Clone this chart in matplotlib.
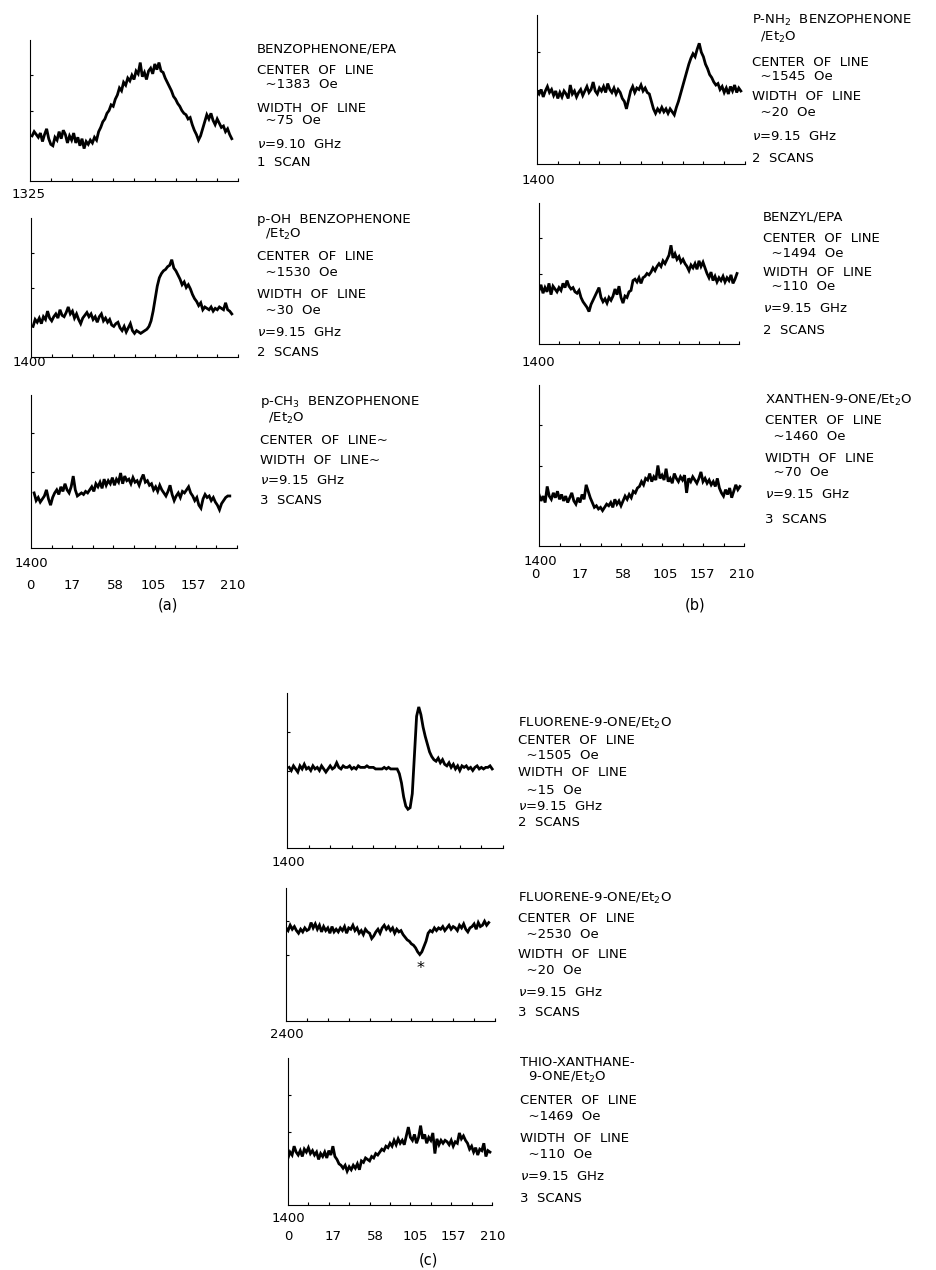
import matplotlib
matplotlib.use('Agg')
import matplotlib.pyplot as plt
import numpy as np

W, H = 936, 1270

# traces: y in percent of panel height, sampled every 1% of panel width
a1_start = 1
a1_y = [32, 35, 33, 31, 34, 28, 33, 37, 30, 26, 25, 31, 29, 35, 30, 36, 33, 27, 32, 29,
        34, 27, 31, 25, 30, 23, 28, 26, 29, 27, 31, 29, 35, 38, 42, 44, 48, 50, 54, 53,
        58, 61, 66, 64, 70, 68, 73, 71, 75, 72, 78, 76, 84, 74, 77, 72, 78, 80, 76, 83,
        79, 84, 78, 77, 73, 70, 67, 64, 60, 58, 55, 53, 50, 48, 47, 44, 45, 40, 36, 33,
        29, 32, 37, 42, 47, 44, 48, 43, 40, 44, 41, 38, 39, 35, 37, 33, 30]

a2_start = 1
a2_y = [22, 27, 25, 28, 24, 29, 27, 33, 28, 26, 29, 31, 28, 34, 30, 29, 32, 36, 31, 33,
        28, 31, 27, 24, 28, 30, 32, 29, 31, 27, 29, 25, 29, 31, 26, 28, 25, 27, 23, 22,
        24, 25, 21, 19, 22, 18, 21, 24, 19, 17, 19, 18, 17, 18, 19, 20, 22, 26, 33, 42,
        51, 57, 60, 62, 63, 65, 66, 70, 64, 62, 59, 56, 52, 54, 50, 52, 49, 45, 42, 40,
        37, 39, 34, 36, 35, 34, 36, 33, 35, 34, 36, 35, 34, 39, 34, 33, 31]

a3_start = 1.5
a3_y = [36, 31, 33, 30, 32, 34, 38, 32, 28, 33, 36, 38, 35, 40, 37, 42, 38, 36, 40, 47,
        38, 34, 35, 36, 35, 37, 36, 38, 40, 37, 42, 40, 43, 39, 45, 41, 44, 42, 46, 41,
        45, 43, 49, 42, 47, 44, 45, 42, 46, 43, 44, 41, 45, 48, 43, 44, 41, 42, 38, 40,
        37, 41, 38, 36, 34, 37, 41, 35, 31, 34, 36, 33, 37, 36, 38, 40, 36, 34, 31, 33,
        28, 26, 32, 35, 33, 34, 31, 33, 30, 28, 25, 29, 31, 33, 34, 34]

b1_start = 0
b1_y = [49, 47, 50, 45, 49, 52, 48, 50, 46, 49, 44, 48, 45, 49, 47, 44, 53, 47, 49, 45,
        48, 50, 46, 49, 52, 48, 50, 55, 49, 47, 51, 49, 52, 48, 54, 50, 48, 51, 47, 50,
        48, 44, 42, 37, 43, 49, 52, 48, 51, 50, 53, 49, 51, 48, 47, 42, 37, 34, 37, 35,
        38, 35, 37, 34, 37, 35, 33, 38, 42, 47, 52, 57, 62, 67, 71, 74, 72, 77, 81, 75,
        72, 67, 64, 60, 58, 55, 53, 54, 50, 52, 48, 51, 47, 52, 49, 53, 48, 51, 49]

b2_start = 0
b2_y = [38, 42, 36, 40, 37, 43, 35, 41, 39, 37, 40, 38, 43, 40, 45, 41, 39, 40, 37, 36,
        38, 33, 30, 28, 26, 23, 28, 31, 34, 37, 40, 33, 30, 32, 29, 33, 31, 34, 39, 35,
        41, 33, 29, 34, 33, 37, 38, 45, 46, 44, 47, 43, 47, 48, 50, 49, 51, 54, 52, 55,
        57, 55, 59, 57, 60, 63, 70, 61, 64, 60, 62, 58, 60, 57, 55, 52, 56, 54, 57, 53,
        59, 55, 58, 54, 50, 47, 51, 45, 48, 44, 47, 45, 48, 44, 47, 45, 49, 43, 46, 50]

b3_start = 0
b3_y = [32, 28, 31, 27, 37, 31, 29, 33, 30, 34, 29, 32, 28, 31, 27, 30, 33, 28, 26, 30,
        27, 32, 29, 38, 34, 30, 27, 24, 25, 23, 24, 22, 24, 26, 25, 27, 24, 29, 26, 28,
        25, 28, 31, 29, 32, 30, 34, 33, 36, 37, 40, 38, 42, 41, 45, 40, 43, 41, 50, 42,
        44, 41, 48, 40, 42, 39, 45, 42, 40, 43, 41, 44, 33, 42, 40, 43, 41, 39, 42, 46,
        40, 42, 39, 41, 38, 40, 37, 42, 36, 33, 31, 35, 32, 36, 30, 34, 38, 35, 37]

c1_start = 1
c1_y = [52, 50, 53, 51, 49, 53, 51, 54, 51, 52, 50, 53, 51, 52, 50, 53, 51, 49, 51, 53,
        51, 52, 55, 52, 51, 53, 52, 52, 53, 51, 52, 51, 53, 52, 52, 52, 53, 52, 52, 52,
        51, 51, 51, 51, 52, 51, 52, 51, 51, 51, 51, 48, 42, 33, 27, 25, 26, 35, 60, 85,
        91, 86, 78, 72, 67, 62, 59, 57, 56, 58, 55, 57, 54, 53, 55, 52, 54, 51, 53, 50,
        53, 52, 53, 51, 52, 50, 52, 53, 51, 52, 51, 52, 52, 53, 51]

c2_start = 0
c2_y = [70, 68, 72, 69, 71, 68, 66, 69, 67, 70, 68, 69, 74, 70, 73, 69, 72, 67, 71, 68,
        70, 66, 71, 67, 69, 67, 70, 68, 71, 66, 70, 69, 72, 68, 70, 66, 68, 65, 69, 67,
        66, 62, 64, 67, 69, 66, 70, 72, 69, 71, 68, 70, 66, 69, 67, 68, 65, 63, 61, 60,
        58, 57, 55, 52, 50, 52, 56, 60, 66, 68, 67, 70, 68, 70, 69, 71, 68, 70, 72, 69,
        71, 70, 68, 72, 70, 73, 69, 67, 70, 71, 73, 69, 74, 71, 72, 75, 72, 74]

c3_start = 0
c3_y = [32, 36, 34, 40, 36, 34, 37, 33, 38, 36, 39, 35, 37, 34, 36, 31, 35, 33, 36, 32,
        37, 34, 40, 33, 31, 28, 27, 25, 27, 23, 26, 24, 27, 25, 28, 24, 30, 29, 32, 31,
        30, 33, 32, 35, 34, 36, 38, 37, 40, 39, 42, 40, 44, 41, 45, 42, 44, 41, 47, 53,
        46, 44, 48, 42, 46, 54, 45, 48, 42, 46, 44, 49, 35, 45, 41, 44, 42, 44, 43, 41,
        44, 40, 43, 42, 49, 45, 47, 44, 42, 38, 40, 36, 39, 34, 38, 37, 42, 33, 37, 36]

field_start = ['1325', '1400', '1400', '1400', '1400', '1400', '1400', '2400', '1400']
tick_labels = ['0', '17', '58', '105', '157', '210']

texts = [
    ['BENZOPHENONE/EPA', 'CENTER  OF  LINE', '  ~1383  Oe', 'WIDTH  OF  LINE',
     '  ~75  Oe', r'$\nu$=9.10  GHz', '1  SCAN'],
    ['p-OH  BENZOPHENONE', r'  /Et$_2$O', 'CENTER  OF  LINE', '  ~1530  Oe',
     'WIDTH  OF  LINE', '  ~30  Oe', r'$\nu$=9.15  GHz', '2  SCANS'],
    [r'p-CH$_3$  BENZOPHENONE', r'  /Et$_2$O', 'CENTER  OF  LINE~', 'WIDTH  OF  LINE~',
     r'$\nu$=9.15  GHz', '3  SCANS'],
    [r'P-NH$_2$  BENZOPHENONE', r'  /Et$_2$O', 'CENTER  OF  LINE', '  ~1545  Oe',
     'WIDTH  OF  LINE', '  ~20  Oe', r'$\nu$=9.15  GHz', '2  SCANS'],
    ['BENZYL/EPA', 'CENTER  OF  LINE', '  ~1494  Oe', 'WIDTH  OF  LINE', '  ~110  Oe',
     r'$\nu$=9.15  GHz', '2  SCANS'],
    [r'XANTHEN-9-ONE/Et$_2$O', 'CENTER  OF  LINE', '  ~1460  Oe', 'WIDTH  OF  LINE',
     '  ~70  Oe', r'$\nu$=9.15  GHz', '3  SCANS'],
    [r'FLUORENE-9-ONE/Et$_2$O', 'CENTER  OF  LINE', '  ~1505  Oe', 'WIDTH  OF  LINE',
     '  ~15  Oe', r'$\nu$=9.15  GHz', '2  SCANS'],
    [r'FLUORENE-9-ONE/Et$_2$O', 'CENTER  OF  LINE', '  ~2530  Oe', 'WIDTH  OF  LINE',
     '  ~20  Oe', r'$\nu$=9.15  GHz', '3  SCANS'],
    ['THIO-XANTHANE-', r'  9-ONE/Et$_2$O', 'CENTER  OF  LINE', '  ~1469  Oe',
     'WIDTH  OF  LINE', '  ~110  Oe', r'$\nu$=9.15  GHz', '3  SCANS'],
]

traces = [(a1_start, a1_y), (a2_start, a2_y), (a3_start, a3_y),
          (b1_start, b1_y), (b2_start, b2_y), (b3_start, b3_y),
          (c1_start, c1_y), (c2_start, c2_y), (c3_start, c3_y)]

# layout in pixels: axes box (left, top, right, bottom), field label pos, text x, text line ys
boxes = [(30, 40, 238, 181), (31, 218, 238, 357), (31, 395, 237, 548),
         (537, 15, 745, 164), (539, 203, 739, 344), (539, 385, 744, 546),
         (287, 693, 503, 848), (286, 888, 495, 1021), (288, 1058, 492, 1205)]
field_pos = [(29, 195), (29, 363), (31, 563), (538, 180), (538, 362), (540, 562),
             (288, 862), (287, 1035), (288, 1218)]
text_x = [257, 257, 260, 752, 763, 765, 518, 518, 520]
text_y = [[49, 70, 85, 108, 121, 144, 163],
          [220, 234, 257, 273, 294, 310, 332, 353],
          [402, 418, 441, 460, 480, 500],
          [20, 37, 62, 76, 97, 113, 137, 158],
          [217, 238, 253, 272, 287, 308, 330],
          [400, 420, 436, 458, 472, 495, 520],
          [723, 740, 755, 773, 790, 806, 823],
          [898, 918, 935, 955, 970, 993, 1012],
          [1063, 1077, 1101, 1117, 1138, 1155, 1176, 1199]]

tick_rows = [([30, 72, 115, 153, 193, 233], 585, (168, 605), '(a)'),
             ([535, 580, 623, 665, 702, 742], 575, (695, 605), '(b)'),
             ([288, 333, 375, 415, 453, 493], 1236, (428, 1260), '(c)')]

plt.rcParams['font.family'] = ['DejaVu Sans']
plt.rcParams['mathtext.fontset'] = 'dejavusans'
FS = 9.5
INK = '#000000'

fig = plt.figure(figsize=(W / 100, H / 100), dpi=100)
fig.patch.set_facecolor('white')


def fx(x):
    return x / W


def fy(y):
    return 1 - y / H


for i, (start, yvals) in enumerate(traces):
    l, t, r, b = boxes[i]
    ax = fig.add_axes([fx(l), fy(b), (r - l) / W, (b - t) / H])
    xs = np.arange(len(yvals)) + start
    ax.plot(xs, yvals, color=INK, lw=2.0, solid_joinstyle='miter')
    ax.set_xlim(0, 100)
    ax.set_ylim(0, 100)
    for s in ['top', 'right']:
        ax.spines[s].set_visible(False)
    for s in ['left', 'bottom']:
        ax.spines[s].set_linewidth(0.8)
        ax.spines[s].set_color(INK)
    ax.set_xticks(range(10, 101, 10))
    ax.set_yticks([50, 75])
    ax.tick_params(direction='in', length=2.5, width=0.8, color=INK,
                   labelbottom=False, labelleft=False)
    ax.tick_params(axis='y', length=1.8)
    ax.patch.set_alpha(0)

    fig.text(fx(field_pos[i][0]), fy(field_pos[i][1]), field_start[i], fontsize=FS,
             ha='center', va='center', color=INK)
    for line, ty in zip(texts[i], text_y[i]):
        fig.text(fx(text_x[i]), fy(ty), line, fontsize=FS, ha='left', va='center',
                 color=INK)

for xs_px, ty, (lx, ly), lab in tick_rows:
    for lbl, tx in zip(tick_labels, xs_px):
        fig.text(fx(tx), fy(ty), lbl, fontsize=FS, ha='center', va='center', color=INK)
    fig.text(fx(lx), fy(ly), lab, fontsize=FS + 1, ha='center', va='center', color=INK)

# marker under the dip in the second fluorenone trace
fig.text(fx(421), fy(968), '*', fontsize=FS + 2, ha='center', va='center', color=INK)

fig.savefig('out.png', dpi=100, facecolor='white')
